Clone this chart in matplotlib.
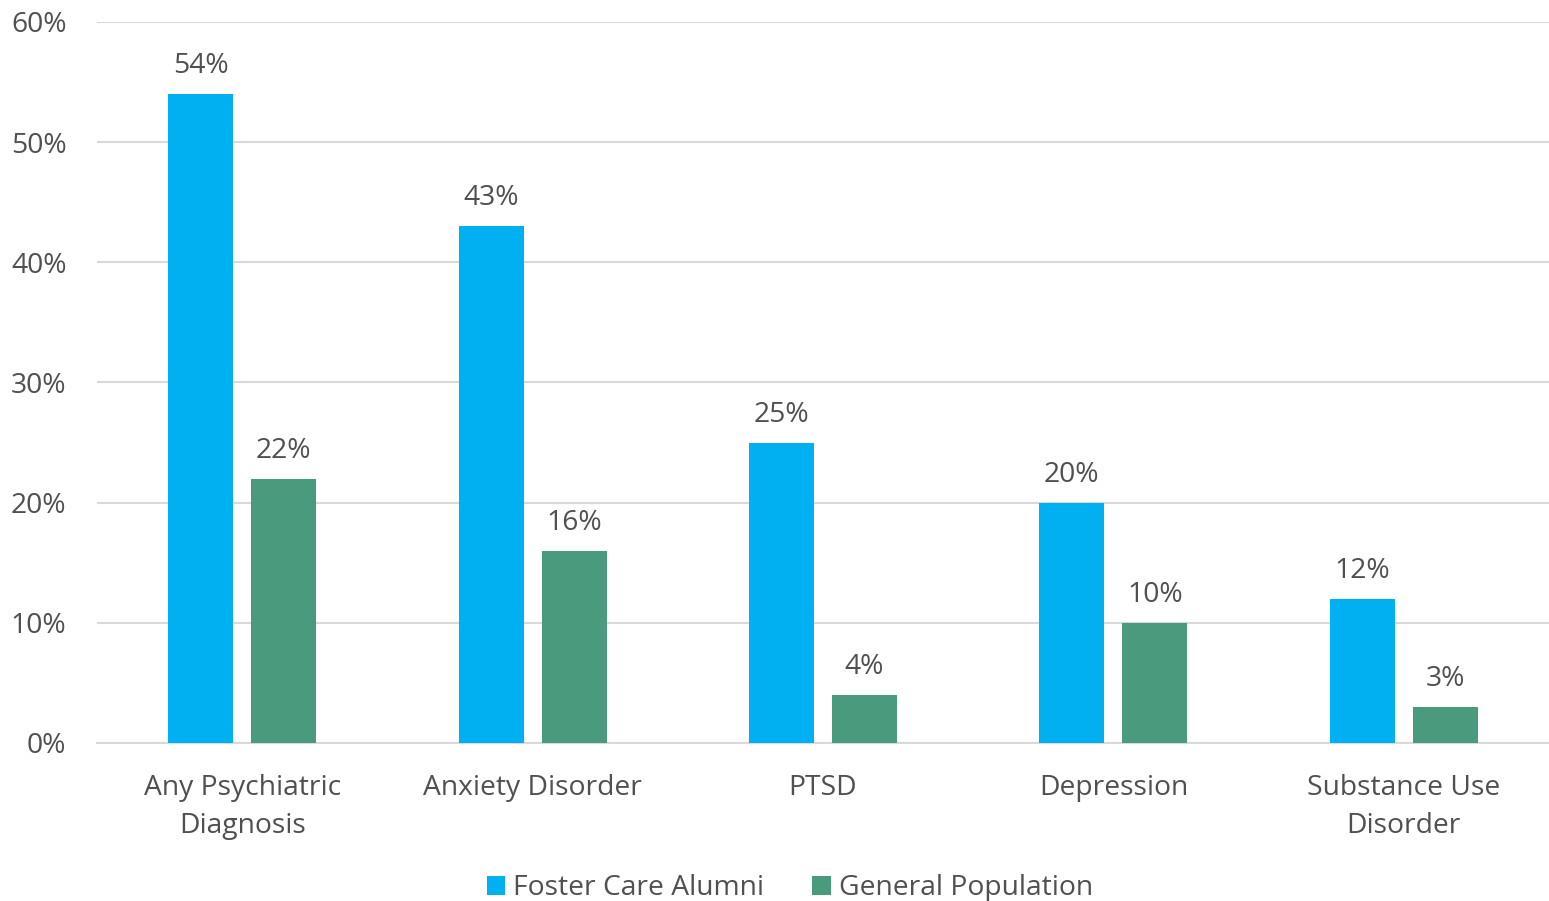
import matplotlib.pyplot as plt
import numpy as np
from matplotlib.ticker import PercentFormatter

plt.rcParams['font.family'] = ['Open Sans', 'DejaVu Sans']

# diagnosis rates, percent
categories = ['Any Psychiatric\nDiagnosis', 'Anxiety Disorder', 'PTSD', 'Depression', 'Substance Use\nDisorder']
foster = [54, 43, 25, 20, 12]
general = [22, 16, 4, 10, 3]
series_names = ['Foster Care Alumni', 'General Population']

blue = '#00B0F0'
green = '#4A9A7E'
txt = '#505050'
fs = 20.3

fig = plt.figure(figsize=(15.49, 9.01), dpi=100)
ax = fig.add_axes([0.0626, 0.1754, 0.9374, 0.8002])

x = np.arange(len(categories))
w = 0.224
off = 0.143
b1 = ax.bar(x - off, foster, w, color=blue, label=series_names[0], zorder=3)
b2 = ax.bar(x + off, general, w, color=green, label=series_names[1], zorder=3)

for bars, vals in [(b1, foster), (b2, general)]:
    for b, v in zip(bars, vals):
        ax.annotate(f'{v}%', (b.get_x() + b.get_width() / 2, v), xytext=(0, 10),
                    textcoords='offset points', ha='center', va='bottom',
                    fontsize=fs, color=txt)

ax.set_xlim(-0.5, 4.5)
ax.set_ylim(0, 60)
ax.set_yticks(range(0, 61, 10))
ax.yaxis.set_major_formatter(PercentFormatter(decimals=0))
ax.set_xticks(x)
ax.set_xticklabels(categories, linespacing=1.52)
ax.tick_params(axis='y', length=0, pad=22, labelsize=fs, labelcolor=txt)
ax.tick_params(axis='x', length=0, pad=22, labelsize=fs, labelcolor=txt)
ax.grid(axis='y', color='#D9D9D9', linewidth=1.5, zorder=0)
for s in ['top', 'right', 'left']:
    ax.spines[s].set_visible(False)
ax.spines['bottom'].set_color('#D9D9D9')
ax.spines['bottom'].set_linewidth(1.5)

fig.legend(handles=[b1, b2], loc='center', bbox_to_anchor=(0.51, 0.014), ncol=2,
           frameon=False, fontsize=fs, labelcolor=txt, handlelength=0.65,
           handleheight=0.65, handletextpad=0.3, columnspacing=1.7)

fig.savefig('out.png', dpi=100)
